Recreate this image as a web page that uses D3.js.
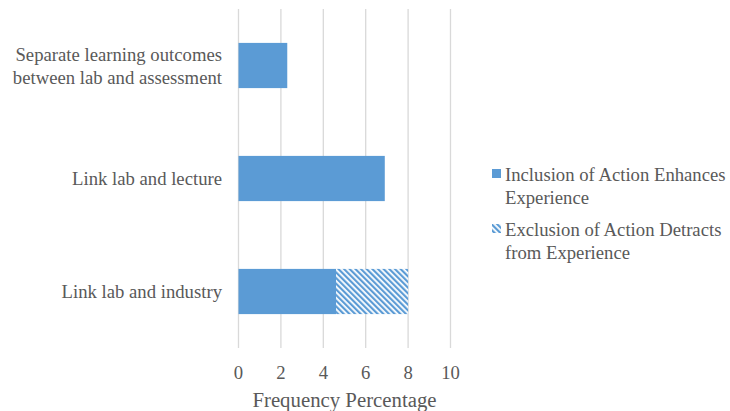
<!DOCTYPE html>
<html>
<head>
<meta charset="utf-8">
<script src="https://cdn.jsdelivr.net/npm/d3@7"></script>
<style>
  html, body { margin: 0; padding: 0; background: #fff; }
</style>
</head>
<body>
<svg id="chart" width="730" height="411"></svg>
<script>
// Chart data
const categories = [
  ["Separate learning outcomes", "between lab and assessment"],
  ["Link lab and lecture"],
  ["Link lab and industry"]
];
const seriesNames = [
  ["Inclusion of Action Enhances", "Experience"],
  ["Exclusion of Action Detracts", "from Experience"]
];
const inclusionValues = [2.3, 6.9, 4.6];
const exclusionValues = [0, 0, 3.4];
const xTicks = [0, 2, 4, 6, 8, 10];
const axisTitle = "Frequency Percentage";

const svg = d3.select("#chart");
const blue = "#5b9bd5";
const textColor = "#595959";

// Diagonal hatch for the second series
const defs = svg.append("defs");
const pat = defs.append("pattern")
  .attr("id", "hatch")
  .attr("patternUnits", "userSpaceOnUse")
  .attr("width", 4).attr("height", 4)
  .attr("patternTransform", "rotate(-45)");
pat.append("rect").attr("width", 4).attr("height", 4).attr("fill", "#fff");
pat.append("rect").attr("x", 0).attr("y", 0).attr("width", 2.2).attr("height", 4).attr("fill", blue);

const plotLeft = 238.5, plotRight = 450.5, plotTop = 9, plotBottom = 348;

const x = d3.scaleLinear().domain([0, 10]).range([plotLeft, plotRight]);
const y = d3.scaleBand().domain(d3.range(categories.length))
  .range([plotTop, plotBottom]).paddingInner(0.6).paddingOuter(0.3);

// Vertical gridlines
svg.append("g").selectAll("line").data(xTicks).join("line")
  .attr("x1", d => x(d)).attr("x2", d => x(d))
  .attr("y1", plotTop).attr("y2", plotBottom)
  .attr("stroke", "#d9d9d9").attr("stroke-width", 1.3);

// Stacked bars
const rows = inclusionValues.map((v, i) => ({ i, inc: v, exc: exclusionValues[i] }));

svg.append("g").selectAll("rect").data(rows).join("rect")
  .attr("x", x(0))
  .attr("y", d => y(d.i))
  .attr("width", d => x(d.inc) - x(0))
  .attr("height", y.bandwidth())
  .attr("fill", blue);

svg.append("g").selectAll("rect").data(rows.filter(d => d.exc > 0)).join("rect")
  .attr("x", d => x(d.inc))
  .attr("y", d => y(d.i))
  .attr("width", d => x(d.inc + d.exc) - x(d.inc))
  .attr("height", y.bandwidth())
  .attr("fill", "url(#hatch)");

function label(sel, size) {
  return sel.attr("font-family", "Liberation Serif")
    .attr("font-size", size).attr("fill", textColor);
}

// Category labels
categories.forEach((lines, i) => {
  const cy = y(i) + y.bandwidth() / 2;
  const lh = 23;
  const t = label(svg.append("text").attr("text-anchor", "end"), 18.7);
  lines.forEach((ln, j) => {
    t.append("tspan")
      .attr("x", 222)
      .attr("y", cy + (j - (lines.length - 1) / 2) * lh)
      .attr("dy", "0.35em")
      .text(ln);
  });
});

// X axis tick labels
label(svg.append("g").selectAll("text").data(xTicks).join("text"), 18.7)
  .attr("x", d => x(d))
  .attr("y", 372)
  .attr("dy", "0.35em")
  .attr("text-anchor", "middle")
  .text(d => d);

// Axis title
label(svg.append("text"), 20.8)
  .attr("x", (plotLeft + plotRight) / 2)
  .attr("y", 400)
  .attr("dy", "0.35em")
  .attr("text-anchor", "middle")
  .text(axisTitle);

// Legend
const legendItems = [
  { fill: blue, y: 174 },
  { fill: "url(#hatch)", y: 229 }
];
legendItems.forEach((it, i) => {
  svg.append("rect")
    .attr("x", 492).attr("y", it.y - 5)
    .attr("width", 9).attr("height", 9)
    .attr("fill", it.fill);
  const t = label(svg.append("text"), 18.7);
  seriesNames[i].forEach((ln, j) => {
    t.append("tspan")
      .attr("x", 505)
      .attr("y", it.y + j * 23)
      .attr("dy", "0.35em")
      .text(ln);
  });
});
</script>
</body>
</html>
